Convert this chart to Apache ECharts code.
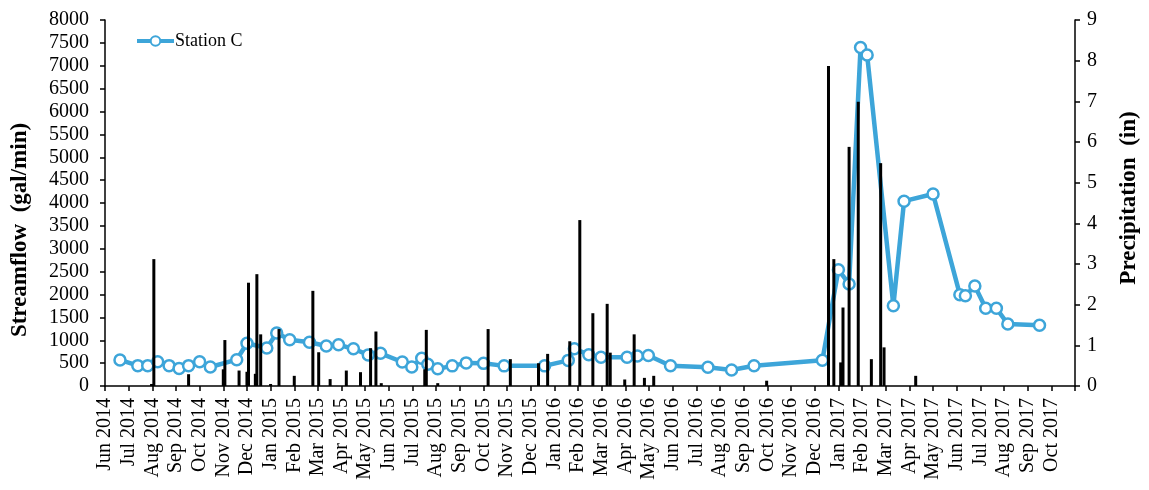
<!DOCTYPE html>
<html><head><meta charset="utf-8">
<script src="https://cdn.jsdelivr.net/npm/echarts@6/dist/echarts.min.js"></script>
<style>html,body{margin:0;padding:0;background:#fff}#c{width:1149px;height:490px}</style>
</head><body><div id="c"></div>
<script>
const monthLabels = ['Jun 2014','Jul 2014','Aug 2014','Sep 2014','Oct 2014','Nov 2014','Dec 2014',
  'Jan 2015','Feb 2015','Mar 2015','Apr 2015','May 2015','Jun 2015','Jul 2015','Aug 2015','Sep 2015','Oct 2015','Nov 2015','Dec 2015',
  'Jan 2016','Feb 2016','Mar 2016','Apr 2016','May 2016','Jun 2016','Jul 2016','Aug 2016','Sep 2016','Oct 2016','Nov 2016','Dec 2016',
  'Jan 2017','Feb 2017','Mar 2017','Apr 2017','May 2017','Jun 2017','Jul 2017','Aug 2017','Sep 2017','Oct 2017'];

const flowDates = ['2014-06-20','2014-07-13','2014-07-26','2014-08-08','2014-08-23','2014-09-05','2014-09-17','2014-10-01','2014-10-15',
  '2014-11-18','2014-12-01','2014-12-27','2015-01-09','2015-01-26','2015-02-19','2015-03-12','2015-03-28','2015-04-16','2015-05-05',
  '2015-05-21','2015-06-18','2015-06-30','2015-07-13','2015-07-21','2015-08-03','2015-08-22','2015-09-09','2015-10-01','2015-10-28',
  '2015-12-19','2016-01-19','2016-01-27','2016-02-14','2016-02-29','2016-04-03','2016-04-16','2016-04-30','2016-05-29','2016-07-16',
  '2016-08-16','2016-09-14','2016-12-11','2017-01-01','2017-01-15','2017-01-30','2017-02-07','2017-03-11','2017-03-25','2017-05-01',
  '2017-06-05','2017-06-12','2017-06-24','2017-07-08','2017-07-22','2017-08-06','2017-09-16'];
const flowValues = [570,445,445,530,445,385,445,530,415,
  575,935,830,1160,1010,955,875,900,815,680,
  715,525,415,605,475,375,440,505,495,440,
  440,560,815,685,630,627,656,668,444,409,
  350,444,565,2540,2230,7400,7236,1755,4040,4197,
  1996,1974,2186,1698,1698,1355,1327];

const precipDates = ['2014-07-31','2014-08-03','2014-09-17','2014-11-01','2014-11-03','2014-11-21','2014-12-01','2014-12-03','2014-12-12',
  '2014-12-14','2014-12-19','2015-01-01','2015-01-12','2015-02-01','2015-02-23','2015-03-02','2015-03-17','2015-04-07','2015-04-25',
  '2015-05-08','2015-05-15','2015-05-22','2015-07-17','2015-07-19','2015-08-03','2015-10-07','2015-11-05','2015-12-11','2015-12-23',
  '2016-01-21','2016-02-03','2016-02-19','2016-03-08','2016-03-12','2016-03-31','2016-04-12','2016-04-25','2016-05-07','2016-09-30',
  '2016-12-19','2016-12-26','2017-01-04','2017-01-07','2017-01-15','2017-01-27','2017-02-12','2017-02-23','2017-02-27','2017-04-09'];
const precipValues = [0.05,3.12,0.29,0.41,1.13,0.38,0.35,2.54,0.3,
  2.75,1.27,0.05,1.40,0.25,2.34,0.83,0.17,0.38,0.34,
  0.93,1.34,0.07,0.41,1.38,0.07,1.40,0.66,0.56,0.79,
  1.10,4.08,1.79,2.02,0.82,0.16,1.27,0.2,0.25,0.13,
  7.87,3.12,0.58,1.93,5.88,6.99,0.66,5.48,0.95,0.25];

function monthIndex(s){
  const p = s.split('-').map(Number);
  const dim = new Date(p[0], p[1], 0).getDate();
  return (p[0]-2014)*12 + (p[1]-6) + (p[2]-1)/dim;
}

const BLUE = '#3DA5D9';
const FONT = '"Liberation Serif", "Times New Roman", serif';
const chart = echarts.init(document.getElementById('c'), null, {renderer:'canvas'});
chart.setOption({
  animation:false,
  backgroundColor:'#fff',
  grid:{left:105, right:74, top:20, bottom:104, containLabel:false},
  legend:{data:['Station C'], left:135, top:32, padding:0, itemWidth:37, itemHeight:12,
    lineStyle:{width:4},
    textStyle:{fontFamily:FONT, fontSize:18, color:'#000', padding:[0,0,0,-4]}},
  xAxis:{type:'value', min:0, max:41, interval:1,
    axisLine:{show:true, lineStyle:{color:'#000', width:1.5}},
    axisTick:{show:true, length:5, lineStyle:{color:'#000', width:1.5}},
    axisLabel:{rotate:90, margin:12, fontFamily:FONT, fontSize:20, color:'#000',
      formatter:v=>monthLabels[v]||''},
    splitLine:{show:false}},
  yAxis:[
    {type:'value', min:0, max:8000, interval:500, position:'left',
      axisLine:{show:true, lineStyle:{color:'#000', width:1.5}},
      axisTick:{show:true, length:5, lineStyle:{color:'#000', width:1.5}},
      axisLabel:{margin:16, fontFamily:FONT, fontSize:20, color:'#000', formatter:v=>String(v)},
      splitLine:{show:false}},
    {type:'value', min:0, max:9, interval:1, position:'right',
      axisLine:{show:true, lineStyle:{color:'#000', width:1.5}},
      axisTick:{show:true, length:5, lineStyle:{color:'#000', width:1.5}},
      axisLabel:{margin:12, fontFamily:FONT, fontSize:20, color:'#000'},
      splitLine:{show:false}}
  ],
  graphic:[
    {type:'text', x:20, y:230, rotation:Math.PI/2,
      style:{text:'Streamflow  (gal/min)', font:'bold 23px ' + FONT, fill:'#000',
        textAlign:'center', textVerticalAlign:'middle', align:'center', verticalAlign:'middle'}},
    {type:'text', x:1129, y:198, rotation:Math.PI/2,
      style:{text:'Precipitation  (in)', font:'bold 23px ' + FONT, fill:'#000',
        textAlign:'center', textVerticalAlign:'middle', align:'center', verticalAlign:'middle'}}
  ],
  series:[
    {type:'line', name:'Station C', xAxisIndex:0, yAxisIndex:0,
      data:flowDates.map((d,i)=>[monthIndex(d), flowValues[i]]),
      symbol:'circle', symbolSize:11, showAllSymbol:true,
      lineStyle:{color:BLUE, width:4.5},
      itemStyle:{color:'#fff', borderColor:BLUE, borderWidth:2.5}, z:2},
    {type:'bar', name:'Precipitation', xAxisIndex:0, yAxisIndex:1,
      data:precipDates.map((d,i)=>[monthIndex(d), precipValues[i]]),
      barWidth:3, itemStyle:{color:'#000'}, z:3}
  ]
});
</script></body></html>
